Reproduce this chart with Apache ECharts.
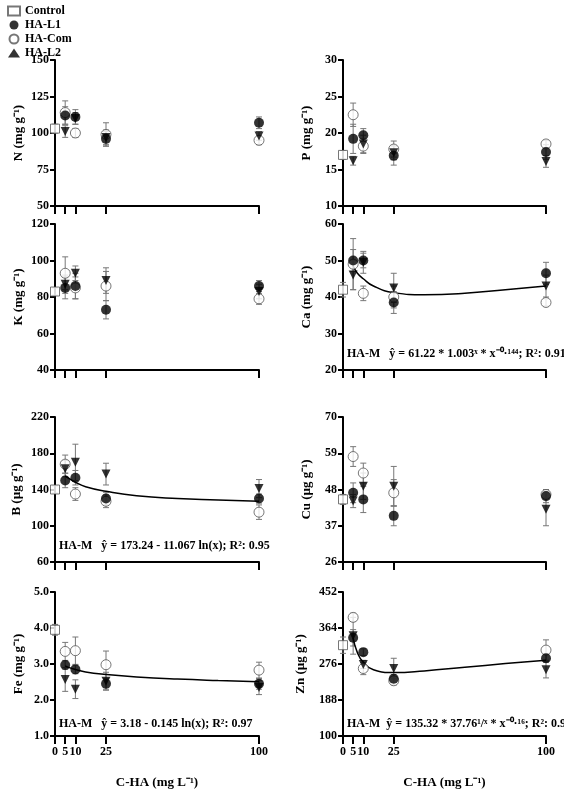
<!DOCTYPE html><html><head><meta charset="utf-8"><script src="https://cdn.jsdelivr.net/npm/echarts@6/dist/echarts.min.js"></script></head><body style="margin:0"><div id="c" style="width:564px;height:790px"></div><script>
const doses=[5,10,25,100];
const panelNames=['N (mg g⁻¹)','P (mg g⁻¹)','K (mg g⁻¹)','Ca (mg g⁻¹)','B (µg g⁻¹)','Cu (µg g⁻¹)','Fe (mg g⁻¹)','Zn (µg g⁻¹)'];
const yMin=[50,10,40,20,60,26,1,100];
const yMax=[150,30,120,60,220,70,5,452];
const yInt=[25,5,20,10,40,11,1,88];
const control=[103,17,83,42,140,45,3.95,322];
const controlErr=[3,0.6,2,2,4,1.5,0.15,20];
const L1=[[112,111,96,107],[19.2,19.7,16.9,17.4],[85,86,73,86],[50,50,38.5,46.5],[150,153,130,130],[47,45,40,46],[2.97,2.85,2.45,2.45],[340,305,240,290]];
const L1err=[[6,5,5,4],[2,0.9,1.3,1],[6,7,5,3],[3,2,3,3],[8,8,7,5],[3,4,3,2],[0.12,0.12,0.15,0.15],[20,8,10,10]];
const Com=[[114,100,99,95],[22.5,18.2,17.8,18.5],[93,85,86,79],[49,41,40,38.5],[168,135,127,115],[58,53,47,46.5],[3.35,3.37,2.98,2.83],[390,265,235,310]];
const ComErr=[[8,3,8,3],[1.6,1,1.1,0.5],[9,6,8,3],[7,2,3,1],[10,7,7,8],[3,3,4,1],[0.25,0.38,0.38,0.22],[10,15,10,25]];
const L2=[[101,110,97,98],[16.2,18.5,17.3,16.1],[87,93,89,83],[46,49.5,42.5,43],[163,170,157,141],[44.5,49,49,42],[2.57,2.3,2.52,2.35],[345,275,265,262]];
const L2err=[[4,4,5,3],[0.6,1.2,1,0.8],[5,4,7,4],[4,3,4,3],[9,20,12,10],[2,4,6,5],[0.33,0.26,0.25,0.2],[45,10,25,20]];
const fitX=[5,7,10,15,25,40,60,80,100];
const fits={3:[48.5,46.6,45,43,41.2,40.6,41,42,43],4:[155,152,148,143,138,133,130,128.5,127],6:[2.95,2.9,2.85,2.78,2.71,2.64,2.58,2.54,2.51],7:[340,305,280,262,255,259,268,277,285]};
const eqs={3:'HA-M   ŷ = 61.22 * 1.003ˣ * x⁻⁰·¹⁴⁴; R²: 0.91',4:'HA-M   ŷ = 173.24 - 11.067 ln(x); R²: 0.95',6:'HA-M   ŷ = 3.18 - 0.145 ln(x); R²: 0.97',7:'HA-M  ŷ = 135.32 * 37.76¹/ˣ * x⁻⁰·¹⁶; R²: 0.98'};
const xTicks=[0,5,10,25,100];
const rows=[[60,146],[224,146],[417,145],[592,148]];
const cols=[[55,204],[343,203]];
const F='Liberation Serif';
const grids=[],xAxes=[],yAxes=[],series=[],graphics=[];
function errSeries(i,data){return {type:'custom',xAxisIndex:i,yAxisIndex:i,silent:true,z:1,data:data,renderItem:(p,api)=>{const x=api.value(0),y=api.value(1),e=api.value(2);const a=api.coord([x,y+e]),b=api.coord([x,y-e]);return {type:'group',children:[{type:'line',shape:{x1:a[0],y1:a[1],x2:b[0],y2:b[1]},style:{stroke:'#777',lineWidth:1}},{type:'line',shape:{x1:a[0]-3,y1:a[1],x2:a[0]+3,y2:a[1]},style:{stroke:'#777',lineWidth:1}},{type:'line',shape:{x1:b[0]-3,y1:b[1],x2:b[0]+3,y2:b[1]},style:{stroke:'#777',lineWidth:1}}]};}};}
for(let i=0;i<8;i++){
  const r=rows[Math.floor(i/2)],c=cols[i%2];const bottom=i>=6;
  grids.push({left:c[0],top:r[0],width:c[1],height:r[1]});
  xAxes.push({type:'value',gridIndex:i,min:0,max:100,axisLine:{onZero:false,lineStyle:{color:'#000',width:2}},splitLine:{show:false},
    axisTick:{customValues:xTicks,length:8,inside:false,lineStyle:{width:2,color:'#000'}},
    axisLabel:{show:bottom,customValues:xTicks,fontFamily:F,fontWeight:'bold',fontSize:12,color:'#000',margin:10},
    name:bottom?'C-HA (mg L⁻¹)':'',nameLocation:'middle',nameGap:40,nameTextStyle:{fontFamily:F,fontWeight:'bold',fontSize:13,color:'#000'}});
  yAxes.push({type:'value',gridIndex:i,min:yMin[i],max:yMax[i],interval:yInt[i],axisLine:{show:true,lineStyle:{color:'#000',width:2}},splitLine:{show:false},
    axisTick:{show:true,length:5,lineStyle:{width:2,color:'#000'}},
    axisLabel:{fontFamily:F,fontWeight:'bold',fontSize:12,color:'#000',margin:6,formatter:v=>i===6?v.toFixed(1):v},
    name:panelNames[i],nameLocation:'middle',nameGap:i===7?36:(i===4?32:30),nameTextStyle:{fontFamily:F,fontWeight:'bold',fontSize:13,color:'#000'}});
  const mk=(arr,err)=>doses.map((d,k)=>[d,arr[i][k],err[i][k]]);
  series.push(errSeries(i,[[0,control[i],controlErr[i]],...mk(L1,L1err),...mk(Com,ComErr),...mk(L2,L2err)]));
  if(fits[i]) series.push({type:'line',xAxisIndex:i,yAxisIndex:i,data:fitX.map((x,k)=>[x,fits[i][k]]),smooth:true,symbol:'none',lineStyle:{color:'#000',width:1.5},z:2,silent:true});
  series.push({name:'Control',type:'scatter',xAxisIndex:i,yAxisIndex:i,data:[[0,control[i]]],symbol:'rect',symbolSize:9,itemStyle:{color:'#fff',borderColor:'#555',borderWidth:1},z:4});
  series.push({name:'HA-L1',type:'scatter',xAxisIndex:i,yAxisIndex:i,data:doses.map((d,k)=>[d,L1[i][k]]),symbol:'circle',symbolSize:10,itemStyle:{color:'#000'},z:5});
  series.push({name:'HA-Com',type:'scatter',xAxisIndex:i,yAxisIndex:i,data:doses.map((d,k)=>[d,Com[i][k]]),symbol:'circle',symbolSize:10,itemStyle:{color:'#fff',borderColor:'#555',borderWidth:1},z:3});
  series.push({name:'HA-L2',type:'scatter',xAxisIndex:i,yAxisIndex:i,data:doses.map((d,k)=>[d,L2[i][k]]),symbol:'triangle',symbolRotate:180,symbolSize:9,itemStyle:{color:'#000'},z:4});
  if(eqs[i]) graphics.push({type:'text',left:c[0]+4,top:r[0]+r[1]-22,style:{text:eqs[i],font:'bold 12px "Liberation Serif"',fill:'#000'}});
}
const chart=echarts.init(document.getElementById('c'));
chart.setOption({animation:false,backgroundColor:'#fff',grid:grids,xAxis:xAxes,yAxis:yAxes,series:series,graphic:graphics,
  legend:{orient:'vertical',left:2,top:0,itemGap:2,itemWidth:12,itemHeight:9,data:['Control','HA-L1','HA-Com','HA-L2'],textStyle:{fontFamily:F,fontWeight:'bold',fontSize:12,color:'#000'}}});
</script></body></html>
